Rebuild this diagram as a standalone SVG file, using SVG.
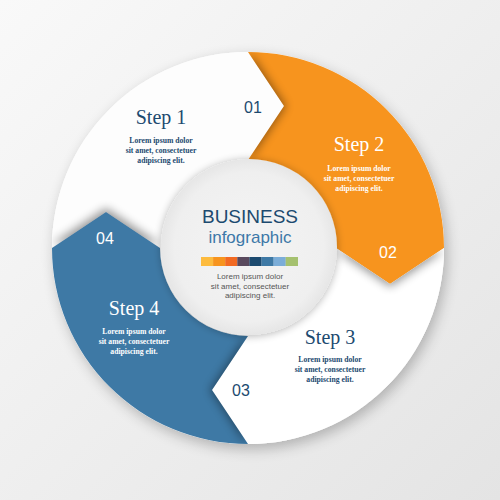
<svg xmlns="http://www.w3.org/2000/svg" width="500" height="500" viewBox="0 0 500 500">
  <defs>
    <linearGradient id="bg" x1="0" y1="0" x2="1" y2="1">
      <stop offset="0" stop-color="#f9f9f9"/>
      <stop offset="1" stop-color="#e4e4e4"/>
    </linearGradient>
    <radialGradient id="disc" cx="0.5" cy="0.5" r="0.5">
      <stop offset="0" stop-color="#f4f4f4"/>
      <stop offset="0.85" stop-color="#efefef"/>
      <stop offset="1" stop-color="#e6e6e6"/>
    </radialGradient>
    <filter id="ringShadow" x="-20%" y="-20%" width="140%" height="140%">
      <feGaussianBlur in="SourceAlpha" stdDeviation="7"/>
      <feOffset dx="3" dy="5" result="b"/>
      <feComponentTransfer><feFuncA type="linear" slope="0.25"/></feComponentTransfer>
      <feMerge><feMergeNode/><feMergeNode in="SourceGraphic"/></feMerge>
    </filter>
    <filter id="discShadow" x="-20%" y="-20%" width="140%" height="140%">
      <feGaussianBlur in="SourceAlpha" stdDeviation="4"/>
      <feOffset dx="0" dy="1"/>
      <feComponentTransfer><feFuncA type="linear" slope="0.3"/></feComponentTransfer>
      <feMerge><feMergeNode/><feMergeNode in="SourceGraphic"/></feMerge>
    </filter>
    <filter id="blur" x="-50%" y="-50%" width="200%" height="200%">
      <feGaussianBlur stdDeviation="5"/>
    </filter>
    <clipPath id="cOrange"><path d="M248,52 A196,196 0 0 1 444,248 L390,284 L336,248 A88,88 0 0 0 248,160 L284,106 Z"/></clipPath>
    <clipPath id="cStep3"><path d="M444,248 A196,196 0 0 1 248,444 L212,390 L248,336 A88,88 0 0 0 336,248 L390,284 Z"/></clipPath>
    <clipPath id="cBlue"><path d="M248,444 A196,196 0 0 1 52,248 L106,212 L160,248 A88,88 0 0 0 248,336 L212,390 Z"/></clipPath>
    <clipPath id="cStep1"><path d="M52,248 A196,196 0 0 1 248,52 L284,106 L248,160 A88,88 0 0 0 160,248 L106,212 Z"/></clipPath>
  </defs>
  <style>
    .step { font-family: "Liberation Serif", "Times New Roman", serif; font-size: 20px; text-anchor: middle; }
    .lorem { font-family: "Liberation Serif", "Times New Roman", serif; font-size: 7.7px; font-weight: bold; text-anchor: middle; }
    .num { font-family: "Liberation Sans", Arial, sans-serif; font-size: 16px; text-anchor: middle; }
    .dark { fill: #1c4a6f; }
    .light { fill: #ffffff; }
    .shade { fill: #000000; opacity: 0.4; filter: url(#blur); }
  </style>

  <rect x="0" y="0" width="500" height="500" fill="url(#bg)"/>

  <!-- ring shadow base -->
  <circle cx="248" cy="248" r="196" fill="#ffffff" filter="url(#ringShadow)"/>

  <g id="step1">
    <path d="M52,248 A196,196 0 0 1 248,52 L284,106 L248,160 A88,88 0 0 0 160,248 L106,212 Z" fill="#fdfdfd"/>
  </g>
  <g id="step2">
    <path d="M248,52 A196,196 0 0 1 444,248 L390,284 L336,248 A88,88 0 0 0 248,160 L284,106 Z" fill="#f7941e"/>
  </g>
  <g id="step3">
    <path d="M444,248 A196,196 0 0 1 248,444 L212,390 L248,336 A88,88 0 0 0 336,248 L390,284 Z" fill="#ffffff"/>
  </g>
  <g id="step4">
    <path d="M248,444 A196,196 0 0 1 52,248 L106,212 L160,248 A88,88 0 0 0 248,336 L212,390 Z" fill="#3e79a5"/>
  </g>

  <!-- arrow tip shadows -->
  <g clip-path="url(#cOrange)"><path class="shade" d="M248,52 L284,106 L248,160 Z" transform="translate(2,0)"/></g>
  <g clip-path="url(#cStep3)"><path class="shade" d="M444,248 L390,284 L336,248 Z" transform="translate(0,3)"/></g>
  <g clip-path="url(#cBlue)"><path class="shade" d="M248,444 L212,390 L248,336 Z" transform="translate(-2,0)"/></g>
  <g clip-path="url(#cStep1)"><path class="shade" d="M52,248 L106,212 L160,248 Z" transform="translate(0,-4)"/></g>

  <!-- texts of steps -->
  <g id="step1-text">
    <text class="num dark" x="253" y="113">01</text>
    <text class="step dark" x="161" y="124">Step 1</text>
    <text class="lorem dark" x="161" y="143">Lorem ipsum dolor</text>
    <text class="lorem dark" x="161" y="153">sit amet, consectetuer</text>
    <text class="lorem dark" x="161" y="163">adipiscing elit.</text>
  </g>
  <g id="step2-text">
    <text class="step light" x="359" y="151">Step 2</text>
    <text class="lorem light" x="359" y="171">Lorem ipsum dolor</text>
    <text class="lorem light" x="359" y="181">sit amet, consectetuer</text>
    <text class="lorem light" x="359" y="191">adipiscing elit.</text>
    <text class="num light" x="388" y="258">02</text>
  </g>
  <g id="step3-text">
    <text class="step dark" x="330" y="344">Step 3</text>
    <text class="lorem dark" x="330" y="362">Lorem ipsum dolor</text>
    <text class="lorem dark" x="330" y="372">sit amet, consectetuer</text>
    <text class="lorem dark" x="330" y="382">adipiscing elit.</text>
    <text class="num dark" x="241" y="396">03</text>
  </g>
  <g id="step4-text">
    <text class="num light" x="105" y="244">04</text>
    <text class="step light" x="134" y="315">Step 4</text>
    <text class="lorem light" x="134" y="334">Lorem ipsum dolor</text>
    <text class="lorem light" x="134" y="344">sit amet, consectetuer</text>
    <text class="lorem light" x="134" y="354">adipiscing elit.</text>
  </g>

  <g id="center">
    <circle cx="249" cy="247" r="88" fill="url(#disc)" filter="url(#discShadow)"/>
    <text x="250" y="223" font-family="Liberation Sans, Arial, sans-serif" font-size="19" text-anchor="middle" fill="#1c4a6f">BUSINESS</text>
    <text x="250" y="243" font-family="Liberation Sans, Arial, sans-serif" font-size="17" text-anchor="middle" fill="#3d78a8">infographic</text>
    <rect x="201" y="257" width="12.2" height="9" fill="#fdbb3e"/>
    <rect x="213.1" y="257" width="12.2" height="9" fill="#f7941e"/>
    <rect x="225.2" y="257" width="12.2" height="9" fill="#f26a23"/>
    <rect x="237.3" y="257" width="12.2" height="9" fill="#5a4a5e"/>
    <rect x="249.4" y="257" width="12.2" height="9" fill="#1c4a6f"/>
    <rect x="261.5" y="257" width="12.2" height="9" fill="#3e79a5"/>
    <rect x="273.6" y="257" width="12.2" height="9" fill="#7badd8"/>
    <rect x="285.7" y="257" width="12.3" height="9" fill="#a5c16f"/>
    <text x="250" y="279" font-family="Liberation Sans, Arial, sans-serif" font-size="8" text-anchor="middle" fill="#555555">Lorem ipsum dolor</text>
    <text x="250" y="288.5" font-family="Liberation Sans, Arial, sans-serif" font-size="8" text-anchor="middle" fill="#555555">sit amet, consectetuer</text>
    <text x="250" y="298" font-family="Liberation Sans, Arial, sans-serif" font-size="8" text-anchor="middle" fill="#555555">adipiscing elit.</text>
  </g>
</svg>
